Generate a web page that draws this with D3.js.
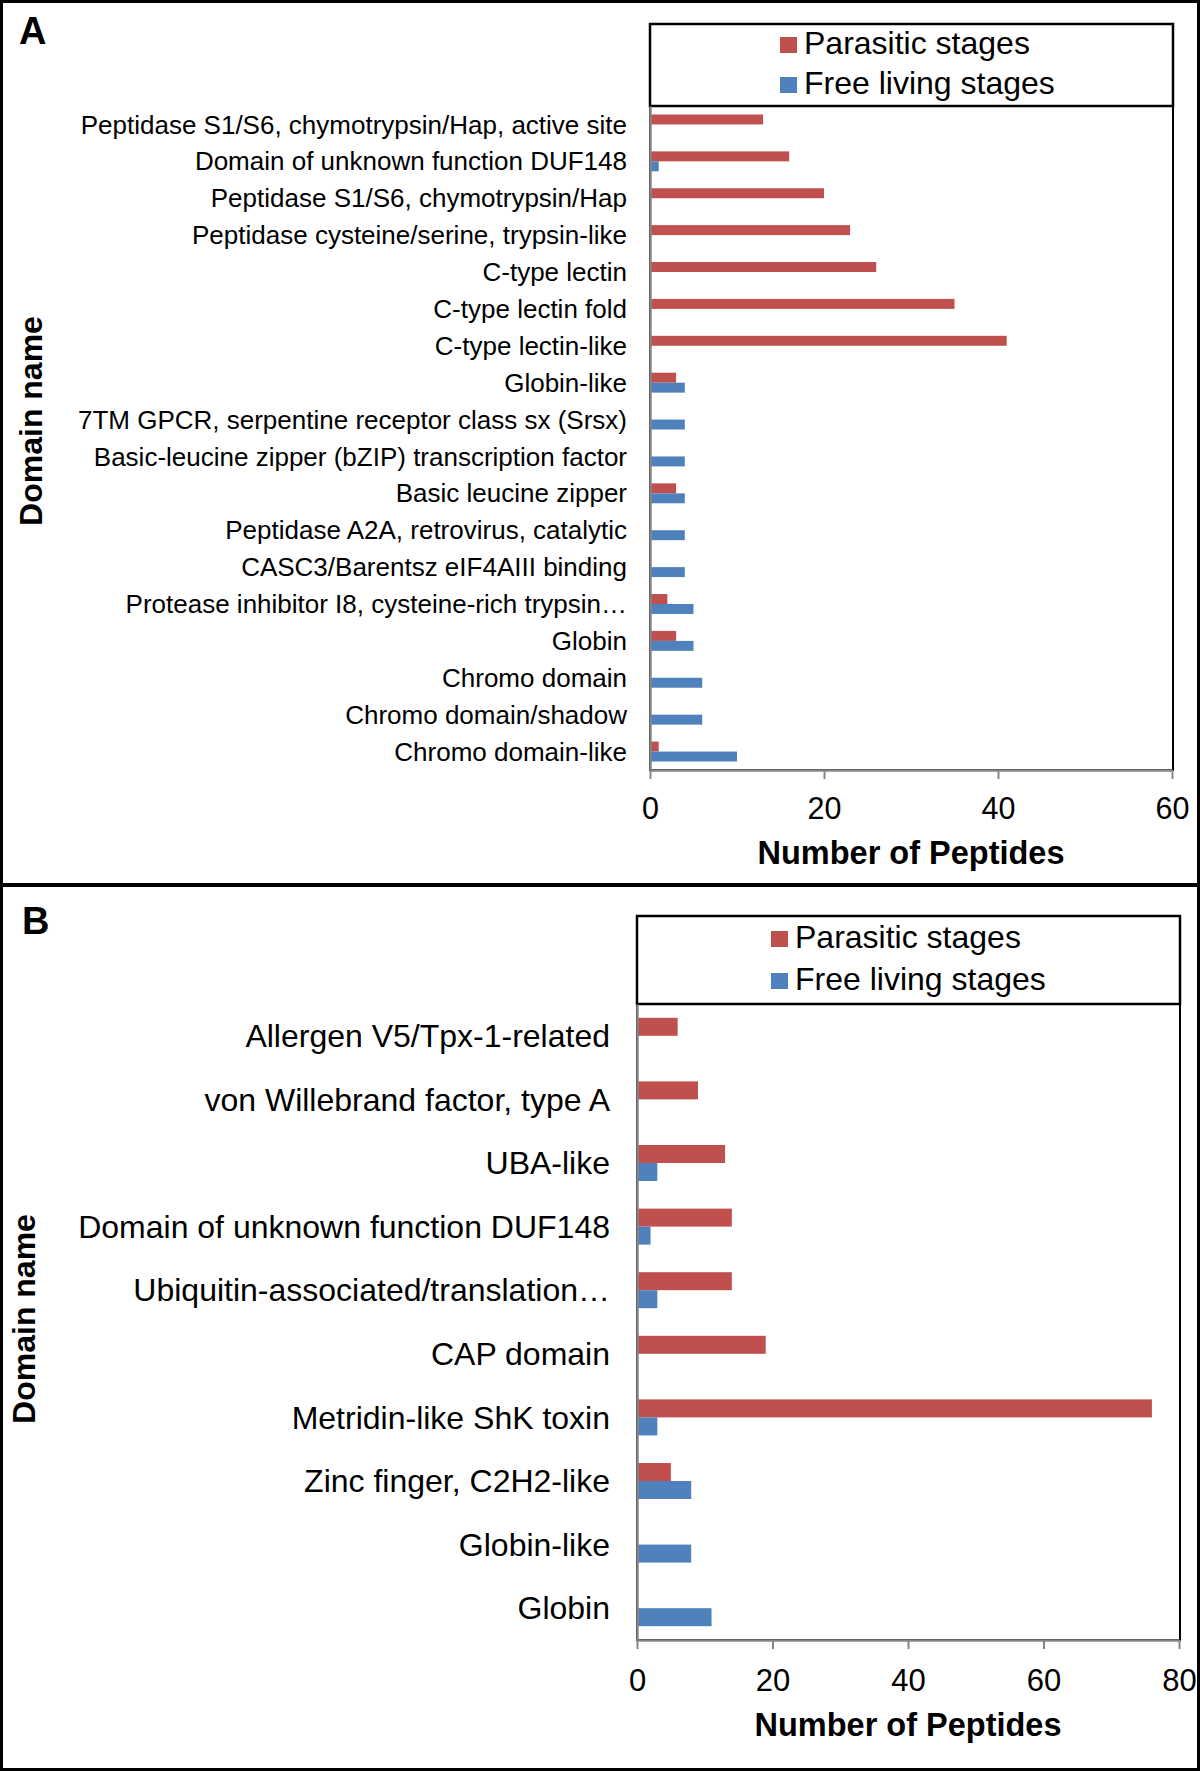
<!DOCTYPE html>
<html>
<head>
<meta charset="utf-8">
<script src="https://cdn.jsdelivr.net/npm/d3@7"></script>
<style>
  body { margin: 0; background: #fff; }
  svg text { font-family: "Liberation Sans", Arial, sans-serif; fill: #000; }
</style>
</head>
<body>
<div id="chart"></div>
<script>
// data
var seriesNames = ["Parasitic stages", "Free living stages"];
var seriesColors = ["#C0504D", "#4F81BD"];

var catsA = [
  "Peptidase S1/S6, chymotrypsin/Hap, active site",
  "Domain of unknown function DUF148",
  "Peptidase S1/S6, chymotrypsin/Hap",
  "Peptidase cysteine/serine, trypsin-like",
  "C-type lectin",
  "C-type lectin fold",
  "C-type lectin-like",
  "Globin-like",
  "7TM GPCR, serpentine receptor class sx (Srsx)",
  "Basic-leucine zipper (bZIP) transcription factor",
  "Basic leucine zipper",
  "Peptidase A2A, retrovirus, catalytic",
  "CASC3/Barentsz eIF4AIII binding",
  "Protease inhibitor I8, cysteine-rich trypsin\u2026",
  "Globin",
  "Chromo domain",
  "Chromo domain/shadow",
  "Chromo domain-like"
];
var parasiticA = [13, 16, 20, 23, 26, 35, 41, 3, 0, 0, 3, 0, 0, 2, 3, 0, 0, 1];
var freeA      = [0, 1, 0, 0, 0, 0, 0, 4, 4, 4, 4, 4, 4, 5, 5, 6, 6, 10];
var ticksA = [0, 20, 40, 60];

var catsB = [
  "Allergen V5/Tpx-1-related",
  "von Willebrand factor, type A",
  "UBA-like",
  "Domain of unknown function DUF148",
  "Ubiquitin-associated/translation\u2026",
  "CAP domain",
  "Metridin-like ShK toxin",
  "Zinc finger, C2H2-like",
  "Globin-like",
  "Globin"
];
var parasiticB = [6, 9, 13, 14, 14, 19, 76, 5, 0, 0];
var freeB      = [0, 0, 3, 2, 3, 0, 3, 8, 8, 11];
var ticksB = [0, 20, 40, 60, 80];

var W = 1200, H = 1771;
var axisGray = "#868686";

var svg = d3.select("#chart").append("svg")
  .attr("width", W)
  .attr("height", H);

svg.append("rect").attr("width", W).attr("height", H).attr("fill", "#fff");

function drawPanel(p) {
  var g = svg.append("g");

  var x = d3.scaleLinear()
    .domain([0, p.ticks[p.ticks.length - 1]])
    .range([p.left, p.right]);

  var y = d3.scaleBand()
    .domain(p.cats)
    .range([p.top, p.bottom])
    .paddingInner(p.pad)
    .paddingOuter(p.pad / 2);

  var ySub = d3.scaleBand()
    .domain([0, 1])
    .range([0, y.bandwidth()]);

  // legend box sitting on top of the plot area
  g.append("rect")
    .attr("x", p.left).attr("y", p.legTop)
    .attr("width", p.right - p.left + 1).attr("height", p.top - p.legTop)
    .attr("fill", "none").attr("stroke", "#000").attr("stroke-width", 2.5);

  // plot area frame
  g.append("rect")
    .attr("x", p.left).attr("y", p.top)
    .attr("width", p.right - p.left + 1).attr("height", p.bottom - p.top)
    .attr("fill", "none").attr("stroke", "#000").attr("stroke-width", 2);

  seriesNames.forEach(function(name, i) {
    var ly = p.legRows[i];
    g.append("rect")
      .attr("x", p.legKeyX).attr("y", ly - 17)
      .attr("width", 17).attr("height", 16)
      .attr("fill", seriesColors[i]);
    g.append("text")
      .attr("x", p.legKeyX + 24).attr("y", ly)
      .style("font-size", p.legFont + "px")
      .text(name);
  });

  // bars
  var rows = p.cats.map(function(c, i) {
    return { cat: c, vals: [p.parasitic[i], p.free[i]] };
  });

  var grp = g.append("g").selectAll("g")
    .data(rows)
    .enter().append("g")
    .attr("transform", function(d) { return "translate(0," + y(d.cat) + ")"; });

  grp.selectAll("rect")
    .data(function(d) { return d.vals; })
    .enter().append("rect")
    .attr("x", x(0))
    .attr("y", function(d, i) { return ySub(i); })
    .attr("width", function(d) { return x(d) - x(0); })
    .attr("height", ySub.bandwidth())
    .attr("fill", function(d, i) { return seriesColors[i]; });

  // x axis
  var xAxis = g.append("g")
    .attr("transform", "translate(0," + p.bottom + ")")
    .call(d3.axisBottom(x).tickValues(p.ticks).tickSize(9).tickSizeOuter(0));
  xAxis.select(".domain").attr("stroke", axisGray).attr("stroke-width", 2.5);
  xAxis.selectAll(".tick line").attr("stroke", axisGray).attr("stroke-width", 2);
  xAxis.selectAll(".tick text")
    .attr("y", p.tickTextY)
    .attr("dy", 0)
    .style("font-size", p.tickFont + "px")
    .style("font-family", "'Liberation Sans', Arial, sans-serif");

  // y axis (category names)
  var yAxis = g.append("g")
    .attr("transform", "translate(" + p.left + ",0)")
    .call(d3.axisLeft(y).tickSize(0).tickPadding(p.labelGap));
  yAxis.select(".domain").attr("stroke", axisGray).attr("stroke-width", 2.5);
  yAxis.selectAll(".tick text")
    .attr("dy", "0.35em")
    .style("font-size", p.labelFont + "px")
    .style("font-family", "'Liberation Sans', Arial, sans-serif");

  // axis titles
  g.append("text")
    .attr("x", (p.left + p.right) / 2)
    .attr("y", p.xTitleY)
    .attr("text-anchor", "middle")
    .style("font-size", "32.5px")
    .style("font-weight", "bold")
    .text("Number of Peptides");

  g.append("text")
    .attr("transform", "translate(" + p.yTitleX + "," + p.yTitleY + ") rotate(-90)")
    .attr("text-anchor", "middle")
    .style("font-size", "32px")
    .style("font-weight", "bold")
    .text("Domain name");

  // panel letter
  g.append("text")
    .attr("x", p.letterX).attr("y", p.letterY)
    .style("font-size", "38px")
    .style("font-weight", "bold")
    .text(p.letter);
}

drawPanel({
  letter: "A", letterX: 19, letterY: 44,
  cats: catsA, parasitic: parasiticA, free: freeA, ticks: ticksA,
  left: 650, right: 1172, top: 106, bottom: 770, pad: 0.46,
  legTop: 24, legKeyX: 780, legRows: [54, 94], legFont: 32,
  labelGap: 23, labelFont: 26,
  tickTextY: 49, tickFont: 30.5,
  xTitleY: 864, yTitleX: 42, yTitleY: 421
});

drawPanel({
  letter: "B", letterX: 22, letterY: 934,
  cats: catsB, parasitic: parasiticB, free: freeB, ticks: ticksB,
  left: 637, right: 1179, top: 1004, bottom: 1640, pad: 0.434,
  legTop: 916, legKeyX: 771, legRows: [948, 990], legFont: 32,
  labelGap: 27, labelFont: 32,
  tickTextY: 51, tickFont: 31,
  xTitleY: 1736, yTitleX: 35, yTitleY: 1319
});

// outer frame and panel divider
svg.append("rect")
  .attr("x", 1.5).attr("y", 1.5)
  .attr("width", W - 3).attr("height", H - 3)
  .attr("fill", "none").attr("stroke", "#000").attr("stroke-width", 3);

svg.append("line")
  .attr("x1", 0).attr("x2", W)
  .attr("y1", 885).attr("y2", 885)
  .attr("stroke", "#000").attr("stroke-width", 4);
</script>
</body>
</html>
